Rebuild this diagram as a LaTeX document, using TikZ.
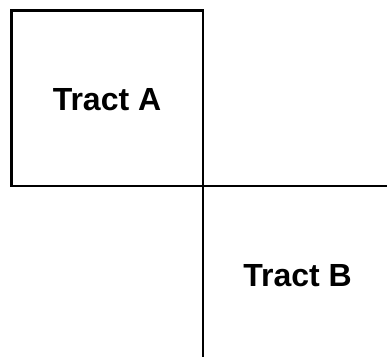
\documentclass[tikz,border=0pt]{standalone}
\usepackage{fontspec}
\setmainfont{Liberation Sans}
\usepackage{tikz}

\begin{document}
\begin{tikzpicture}[x=1pt,y=-1pt,line width=2.5pt,
  lot/.style={font=\fontsize{32}{36}\selectfont\bfseries,anchor=base,inner sep=0pt}]
\useasboundingbox (0,0) rectangle (387,358);
\coordinate (nw) at (11.5,10.5);
\coordinate (c) at (203,186);
\coordinate (e) at (387,186);
\coordinate (s) at (203,357);
\draw (nw) rectangle (c);
\draw (c) -- (e);
\draw (c) -- (s);
   \node[lot](tractA) at (107,111) {Tract A};
   \node[lot](tractB) at (297.5,286) {Tract B};
\end{tikzpicture}
\end{document}
